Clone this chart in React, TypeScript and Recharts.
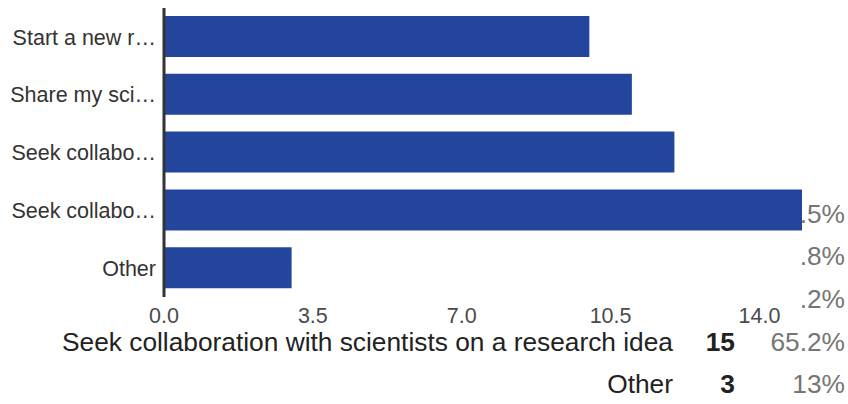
import React from "react";
import { BarChart, Bar, XAxis, YAxis } from "recharts";

const tickLabels = ["Start a new r…", "Share my sci…", "Seek collabo…", "Seek collabo…", "Other"];
const tableLabels = [
  "Start a new r…",
  "Share my sci…",
  "Seek collabo…",
  "Seek collaboration with scientists on a research idea",
  "Other",
];
const counts = [10, 11, 12, 15, 3];
const percents = ["43.5%", "47.8%", "52.2%", "65.2%", "13%"];
const xTicks = [0, 3.5, 7, 10.5, 14];

const data = counts.map((v, i) => ({ idx: i, value: v }));

const FONT = "'Liberation Sans', Arial, Helvetica, sans-serif";

export default function App() {
  return (
    <div style={{ position: "absolute", left: 0, top: 0, width: 848, height: 404, background: "#fff", overflow: "hidden", fontFamily: FONT }}>
      <div style={{ position: "absolute", left: 0, top: 192.6, width: 845 }}>
        {tableLabels.map((lab, i) => (
          <div key={i} style={{ display: "flex", height: 42.7, lineHeight: "42.7px", fontSize: 26.3, whiteSpace: "nowrap" }}>
            <div style={{ width: 673, textAlign: "right", color: "#222", overflow: "visible" }}>{lab}</div>
            <div style={{ width: 62, textAlign: "right", color: "#222", fontWeight: "bold" }}>{counts[i]}</div>
            <div style={{ width: 110, textAlign: "right", color: "#757575" }}>{percents[i]}</div>
          </div>
        ))}
      </div>
      <div style={{ position: "absolute", left: 0, top: 0, width: 802, height: 331, background: "#fff", zIndex: 1 }}>
        <BarChart
          width={802}
          height={331}
          data={data}
          layout="vertical"
          margin={{ top: 8, right: 0, bottom: 0, left: 0 }}
          barSize={41}
        >
          <XAxis
            type="number"
            domain={[0, 15]}
            ticks={xTicks}
            allowDataOverflow
            axisLine={false}
            tickLine={false}
            tickMargin={5}
            height={34}
            tickFormatter={(v: number) => v.toFixed(1)}
            tick={{ fill: "#4a4a4a", fontSize: 21.5, fontFamily: FONT }}
          />
          <YAxis
            type="category"
            dataKey="idx"
            width={164}
            axisLine={{ stroke: "#333", strokeWidth: 3 }}
            tickLine={false}
            tickFormatter={(v: number) => tickLabels[v]}
            tick={{ fill: "#333", fontSize: 21.5, fontFamily: FONT }}
          />
          <Bar dataKey="value" fill="#23469c" isAnimationActive={false} />
        </BarChart>
      </div>
    </div>
  );
}
